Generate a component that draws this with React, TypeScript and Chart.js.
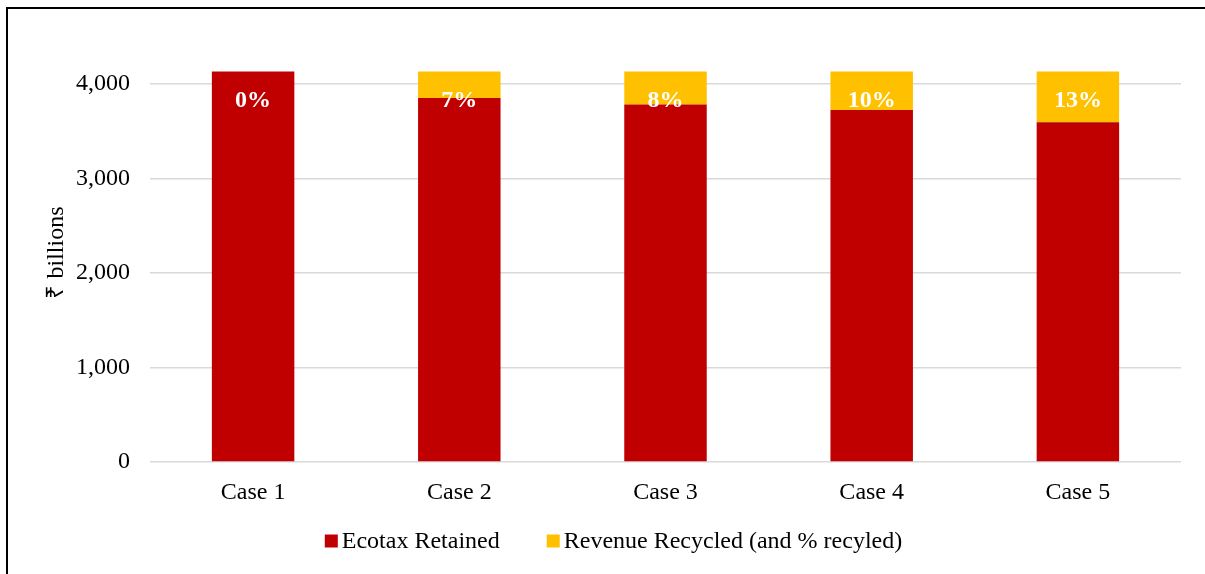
import React, { useEffect, useRef } from "react";
import { Chart, registerables } from "chart.js";

Chart.register(...registerables);

const categories = ["Case 1", "Case 2", "Case 3", "Case 4", "Case 5"];
const ecotaxRetained = [4130, 3850, 3783, 3723, 3595];
const revenueRecycled = [0, 280, 347, 407, 535];
const percentLabels = ["0%", "7%", "8%", "10%", "13%"];
const yTicks = [0, 1000, 2000, 3000, 4000];
const seriesLabels = ["Ecotax Retained", "Revenue Recycled (and % recyled)"];
const seriesColors = ["#C00000", "#FFC000"];
const yTitle = "₹ billions";

const FONT = "'Liberation Serif', 'Times New Roman', serif";
const FS = 24;

const percentPlugin = {
  id: "percentLabels",
  afterDatasetsDraw(chart: any) {
    const ctx = chart.ctx;
    const meta = chart.getDatasetMeta(1);
    const yScale = chart.scales.y;
    ctx.save();
    ctx.fillStyle = "#ffffff";
    ctx.font = `bold ${FS}px ${FONT}`;
    ctx.textAlign = "center";
    ctx.textBaseline = "middle";
    meta.data.forEach((bar: any, i: number) => {
      const total = ecotaxRetained[i] + revenueRecycled[i];
      const y = yScale.getPixelForValue(total) + 29;
      ctx.fillText(percentLabels[i], bar.x, y);
    });
    ctx.restore();
  },
};

const titlePlugin = {
  id: "yTitle",
  afterDraw(chart: any) {
    const ctx = chart.ctx;
    const a = chart.chartArea;
    ctx.save();
    ctx.translate(a.left - 93, (a.top + a.bottom) / 2 - 11);
    ctx.rotate(-Math.PI / 2);
    ctx.font = `${FS}px ${FONT}`;
    ctx.fillStyle = "#000";
    ctx.textAlign = "center";
    ctx.textBaseline = "middle";
    ctx.fillText(yTitle, 0, 0);
    ctx.restore();
  },
};

const legendPlugin = {
  id: "customLegend",
  afterDraw(chart: any) {
    const ctx = chart.ctx;
    ctx.save();
    ctx.font = `${FS}px ${FONT}`;
    ctx.textBaseline = "middle";
    ctx.textAlign = "left";
    const box = 13;
    const gap = 4;
    const spacing = 47;
    const widths = seriesLabels.map((t) => box + gap + ctx.measureText(t).width);
    const total = widths.reduce((a, b) => a + b, 0) + spacing * (widths.length - 1);
    let x = chart.width / 2 + 11 - total / 2;
    const y = chart.height - 33;
    seriesLabels.forEach((t, i) => {
      ctx.fillStyle = seriesColors[i];
      ctx.fillRect(x, y - box / 2, box, box);
      ctx.fillStyle = "#000";
      ctx.fillText(t, x + box + gap, y + 1);
      x += widths[i] + spacing;
    });
    ctx.restore();
  },
};

export default function App() {
  const ref = useRef<HTMLCanvasElement | null>(null);
  useEffect(() => {
    if (!ref.current) return;
    const chart = new Chart(ref.current, {
      type: "bar",
      data: {
        labels: categories,
        datasets: [
          {
            label: seriesLabels[0],
            data: ecotaxRetained,
            backgroundColor: seriesColors[0],
            categoryPercentage: 1,
            barPercentage: 0.4,
          },
          {
            label: seriesLabels[1],
            data: revenueRecycled,
            backgroundColor: seriesColors[1],
            categoryPercentage: 1,
            barPercentage: 0.4,
          },
        ],
      },
      options: {
        animation: false,
        responsive: false,
        maintainAspectRatio: false,
        layout: { padding: { left: 40, right: 24, top: 65, bottom: 62 } },
        plugins: {
          legend: { display: false },
          tooltip: { enabled: false },
        },
        scales: {
          x: {
            stacked: true,
            grid: { display: false, drawTicks: false },
            border: { display: false },
            afterFit: (axis: any) => {
              axis.height = 50;
            },
            ticks: { font: { family: FONT, size: FS }, color: "#000", padding: 16 },
          },
          y: {
            stacked: true,
            min: 0,
            max: 4200,
            afterBuildTicks: (axis: any) => {
              axis.ticks = yTicks.map((v) => ({ value: v }));
            },
            afterFit: (axis: any) => {
              axis.width = 110;
            },
            grid: { color: "#D9D9D9", lineWidth: 1.5, drawTicks: false },
            border: { display: false },
            ticks: {
              font: { family: FONT, size: FS },
              color: "#000",
              padding: 20,
              callback: (v: any) => Number(v).toLocaleString("en-US"),
            },
          },
        },
      },
      plugins: [percentPlugin, titlePlugin, legendPlugin],
    });
    return () => chart.destroy();
  }, []);

  return (
    <div
      style={{
        position: "fixed",
        left: 0,
        top: 0,
        width: 1205,
        height: 574,
        overflow: "hidden",
        background: "#fff",
      }}
    >
      <canvas ref={ref} width={1205} height={574} style={{ position: "absolute", left: 0, top: 0 }} />
      <div
        style={{
          position: "absolute",
          left: 6,
          top: 7,
          width: 1300,
          height: 700,
          border: "2px solid #000",
          pointerEvents: "none",
        }}
      />
    </div>
  );
}
